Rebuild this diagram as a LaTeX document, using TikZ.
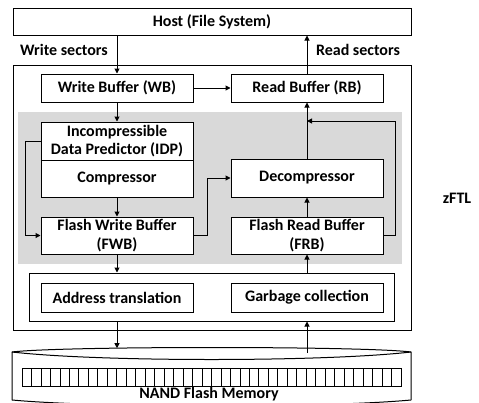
\documentclass[tikz,border=0pt]{standalone}
\usepackage{fontspec}
\setmainfont{Carlito}
\usetikzlibrary{arrows.meta,calc}
\begin{document}
\begin{tikzpicture}[x=1pt,y=-1pt,
  every node/.style={font=\bfseries\fontsize{16}{18.5}\selectfont, inner sep=0pt},
  blk/.style={draw, fill=white, line width=1pt, align=center, minimum width=152pt},
  arr/.style={-{Triangle[length=5pt,width=5pt]}, line width=1pt},
  ln/.style={line width=1pt},
  lbl/.style={}]
\useasboundingbox (0,0) rectangle (479,402);
% host
\node[blk, minimum width=398pt, minimum height=27pt] (host) at (212,21.5) {Host (File System)};
% zFTL frame
\node[draw, line width=1pt, minimum width=398pt, minimum height=265pt] (zftl) at (212,197.5) {};
\node[lbl] (wsec) at (64,50) {Write sectors};
\node[lbl] (rsec) at (358,50) {Read sectors};
\node[lbl] (ztxt) at (457,198) {zFTL};
% buffers
\node[blk, minimum height=28pt] (wb) at (117,88) {Write Buffer (WB)};
\node[blk, minimum height=28pt] (rb) at (307,88) {Read Buffer (RB)};
% gray region
\node[fill={rgb,255:red,217;green,217;blue,217}, minimum width=384pt, minimum height=152pt] (gray) at (210,188) {};
\node[blk, minimum height=38pt] (idp) at (117,141) {Incompressible\\Data Predictor (IDP)};
\node[blk, minimum height=37pt] (comp) at (117,178.5) {Compressor};
\node[blk, minimum height=38pt] (decomp) at (307,178) {Decompressor};
\node[blk, minimum height=37pt] (fwb) at (117,235.5) {Flash Write Buffer\\(FWB)};
\node[blk, minimum height=37pt] (frb) at (307,235.5) {Flash Read Buffer\\(FRB)};
% lower container
\node[draw, line width=1pt, fill=white, minimum width=365pt, minimum height=48pt] (cont) at (211.5,297) {};
\node[blk, minimum height=29pt] (at) at (117,297.5) {Address translation};
\node[blk, minimum height=29pt] (gc) at (307,297.5) {Garbage collection};
% NAND
\draw[ln] (12,400) -- (12,352) .. controls (60,346) and (365,346) .. (411,352) -- (411,400);
\draw[ln] (12,352) .. controls (100,362) and (323,362) .. (411,352);
\draw[ln] (12,400) .. controls (100,408) and (323,408) .. (411,400);
\foreach \i in {0,...,39} {
  \draw[line width=0.8pt] ({22+\i*9.475},368) rectangle ({22+(\i+1)*9.475},386);
}
\node[lbl] (nand) at (209,394.5) {NAND Flash Memory};
\coordinate (ntop) at (117,348.2);
\coordinate (nup) at (307,353);
\coordinate (j) at (307,121);
% connectors
\draw[arr] (host.south -| wb.north) -- (wb.north);
\draw[arr] (rb.north) -- (rb.north |- host.south);
\draw[arr] (wb.east) -- (rb.west);
\draw[arr] (wb.south) -- (idp.north);
\draw[arr] (comp.south) -- (fwb.north);
\draw[arr] (idp.west) -- ++(-15,0) |- (fwb.west);
\draw[arr] (fwb.east) -- ++(14,0) |- (decomp.west);
\draw[arr] (frb.north) -- (decomp.south);
\draw[arr] (decomp.north) -- (rb.south);
\draw[arr] (frb.east) -- ++(12,0) |- (j);
\draw[arr] (fwb.south) -- (fwb.south |- cont.north);
\draw[arr] (frb.south |- cont.north) -- (frb.south);
\draw[arr] (cont.south -| at.south) -- (ntop);
\draw[arr] (nup) -- (nup |- cont.south);
\end{tikzpicture}
\end{document}
